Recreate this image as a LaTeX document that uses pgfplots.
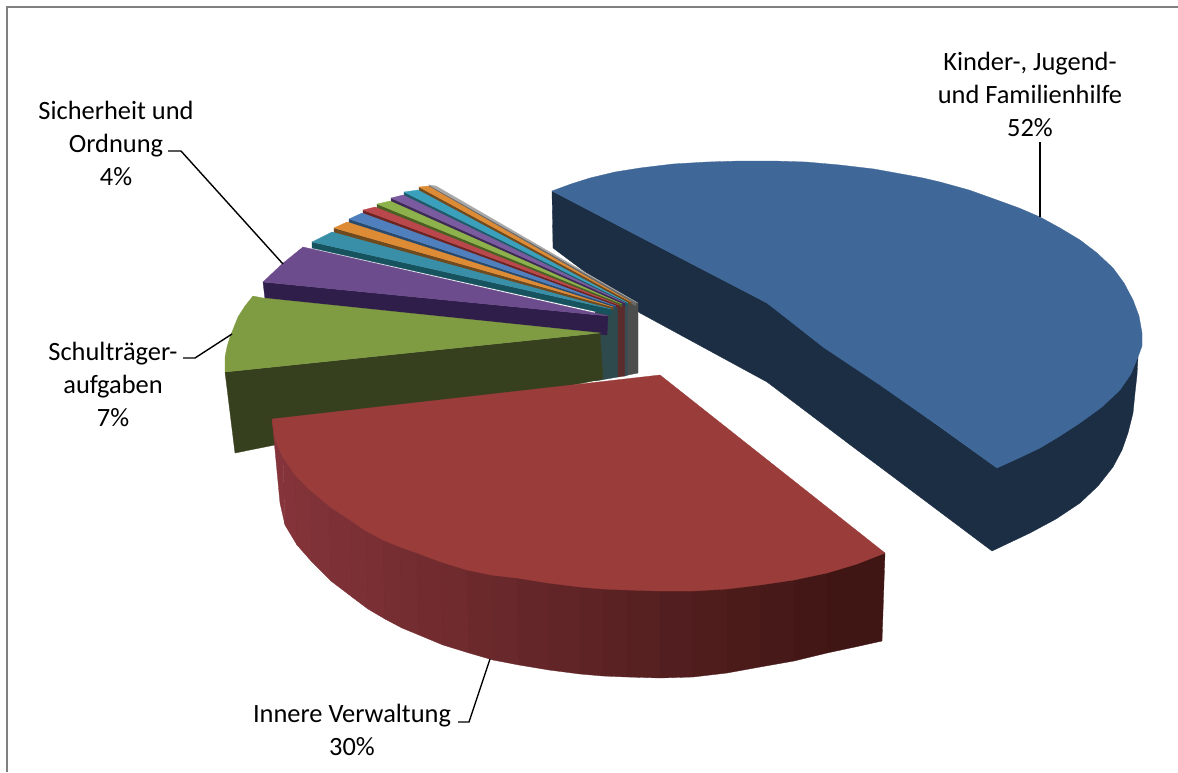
\documentclass[border=0pt]{standalone}
\usepackage{pgfplots}
\usepackage{fontspec}
\setmainfont{Carlito}
\pgfplotsset{compat=1.18}

\definecolor{blueS}{HTML}{1C2E44}
\definecolor{blueT}{HTML}{3F6797}
\definecolor{colA}{HTML}{2E4A4C}
\definecolor{colB}{HTML}{5B2C2C}
\definecolor{colC}{HTML}{3C4C55}
\definecolor{colD}{HTML}{4B4E4C}
\definecolor{grayS}{HTML}{6A6A6A}
\definecolor{grayT}{HTML}{A8A8A8}
\definecolor{oranS}{HTML}{6F4A1F}
\definecolor{oranT}{HTML}{DE8B36}
\definecolor{tealS}{HTML}{1F5A68}
\definecolor{tealT}{HTML}{3AA0BC}
\definecolor{purpS}{HTML}{3D2A55}
\definecolor{purpT}{HTML}{7A5BA0}
\definecolor{lgreS}{HTML}{4B5F25}
\definecolor{lgreT}{HTML}{8DB24B}
\definecolor{lredS}{HTML}{6B2422}
\definecolor{lredT}{HTML}{B9474B}
\definecolor{lbluS}{HTML}{2A4A6D}
\definecolor{lbluT}{HTML}{4F80BD}
\definecolor{tea1S}{HTML}{17525F}
\definecolor{tea1T}{HTML}{3A8FA8}
\definecolor{vioS}{HTML}{2F1D4A}
\definecolor{vioT}{HTML}{6D4C8E}
\definecolor{greS}{HTML}{363F1E}
\definecolor{greT}{HTML}{7F9C42}
\definecolor{redT}{HTML}{9A3D3A}
\definecolor{redL}{HTML}{84343A}
\definecolor{redR}{HTML}{401614}

% polygon in picture pixels: \poly{colour}{coordinates}
\newcommand{\poly}[2]{\addplot[fill=#1,draw=#1,line width=0.3pt] coordinates {#2} -- cycle;}
\newcommand{\strip}[2]{\poly{redR!#1!redL}{#2}}
\newcommand{\leader}[1]{\addplot[black,line width=1.4pt] coordinates {#1};}

\begin{document}
\begin{tikzpicture}
\begin{axis}[
    width=1178pt, height=772pt, scale only axis,
    xmin=0, xmax=1178, ymin=0, ymax=772, y dir=reverse,
    hide axis, clip=true,
    nodes={font=\fontsize{26.4}{33}\selectfont, align=center},
]
% keeps the whole canvas in the bounding box
\addplot[draw=none] coordinates {(0,0) (1178,772)};
% frame
\addplot[gray,line width=1.5pt] coordinates {(7,772) (7,7) (1178,7)};

% Kinder-, Jugend- und Familienhilfe
\poly{blueS}{(552,191) (553,248) (640,313) (767,382) (857,450) (880,467) (992,551) (1011,542) (1030,533) (1056,519) (1080,503) (1098,486) (1113,467) (1122,450) (1128,433) (1133,413) (1135,393) (1137,375) (1138,357) (997,468) (767,303)}
\poly{blueT}{(552,191) (571,184) (590,178) (615,172) (640,168) (673,164) (707,162) (740,161) (773,161) (806,162) (840,165) (874,169) (907,175) (923,178) (940,182) (969,190) (997,200) (1019,208) (1040,217) (1060,228) (1080,240) (1097,253) (1113,268) (1124,283) (1133,300) (1139,316) (1142,333) (1142,346) (1138,357) (1131,374) (1120,390) (1102,407) (1080,423) (1060,436) (1040,448) (1019,458) (997,468) (940,427) (880,385) (823,347) (767,303) (640,237)}

% back faces at the centre
\poly{colA}{(595,312) (618,305) (618,377) (595,381)}
\poly{colB}{(618,305) (625,303) (625,376) (618,377)}
\poly{colC}{(625,303) (628,303) (628,375) (625,376)}
\poly{colD}{(628,303) (638,303) (638,373) (628,375)}

% small slices, back to front
\poly{grayS}{(429,185) (429,188) (636,306) (636,302)}
\poly{grayT}{(429,185) (436,186) (638,303) (636,302)}
\poly{oranS}{(419,187) (419,191) (631,305) (631,302)}
\poly{oranT}{(419,187) (428,186) (631,302)}
\poly{tealS}{(404,192) (404,197) (628,306) (628,303)}
\poly{tealT}{(404,192) (418,190) (628,303)}
\poly{purpS}{(391,198) (391,203) (625,306) (625,303)}
\poly{purpT}{(391,198) (403,195) (625,303)}
\poly{lgreS}{(377,204) (377,209) (622,307) (622,304)}
\poly{lgreT}{(377,204) (390,201) (622,304)}
\poly{lredS}{(363,210) (363,215) (619,308) (619,305)}
\poly{lredT}{(363,210) (375,207) (619,305)}
\poly{lbluS}{(349,219) (349,224) (616,309) (616,306)}
\poly{lbluT}{(349,219) (362,213) (616,306)}
\poly{oranS}{(334,228) (334,233) (613,310) (613,307)}
\poly{oranT}{(334,228) (347,222) (613,307)}
\poly{tea1S}{(312,242) (312,248) (611,315) (611,309)}
\poly{tea1T}{(312,242) (332,232) (611,309)}

% Sicherheit und Ordnung
\poly{vioS}{(263,282) (265,299) (607,335) (608,316)}
\poly{vioT}{(263,282) (282,264) (303,247) (608,316)}

% Schultraegeraufgaben
\poly{greS}{(225,372) (235,453) (603,379) (600,333)}
\poly{greT}{(225,372) (225,357) (227,347) (230,337) (234,327) (238,317) (245,306) (253,296) (263,298) (600,333)}

% Innere Verwaltung, one dark face under the strips, so no white shows at the joins
\poly{redR!50!redL}{(285,457) (295,475) (310,490) (350,520) (417,553) (517,578) (627,590) (760,585) (882,555) (880,639) (827,651) (760,665) (660,676) (549,668) (469,651) (385,617) (331,579) (297,543)}
\strip{0}{(272,419) (275,440) (283,457) (285,525) (280,503) (275,450)}
\strip{2}{(283,457) (295,475) (297,545) (285,525)}
\strip{4}{(295,475) (310,490) (312,562) (297,545)}
\strip{7}{(310,490) (329,506) (331,581) (312,562)}
\strip{10}{(329,506) (350,520) (352,597) (331,581)}
\strip{13}{(350,520) (366,531) (368,609) (352,597)}
\strip{16}{(366,531) (383,540) (385,619) (368,609)}
\strip{20}{(383,540) (400,547) (402,628) (385,619)}
\strip{23}{(400,547) (417,553) (419,635) (402,628)}
\strip{27}{(417,553) (441,562) (443,645) (419,635)}
\strip{31}{(441,562) (467,570) (469,653) (443,645)}
\strip{36}{(467,570) (491,575) (493,660) (469,653)}
\strip{40}{(491,575) (517,578) (519,665) (493,660)}
\strip{45}{(517,578) (548,583) (549,670) (519,665)}
\strip{51}{(548,583) (580,587) (580,674) (549,670)}
\strip{56}{(580,587) (603,589) (603,676) (580,674)}
\strip{60}{(603,589) (627,590) (627,677) (603,676)}
\strip{66}{(627,590) (660,591) (660,678) (627,677)}
\strip{72}{(660,591) (693,591) (693,677) (660,678)}
\strip{78}{(693,591) (727,589) (727,673) (693,677)}
\strip{84}{(727,589) (760,585) (760,667) (727,673)}
\strip{90}{(760,585) (794,580) (794,661) (760,667)}
\strip{96}{(794,580) (827,573) (827,653) (794,661)}
\strip{100}{(827,573) (857,564) (855,647) (827,653)}
\strip{100}{(857,564) (885,553) (882,641) (855,647)}
\poly{redT}{(272,419) (660,375) (885,553) (857,564) (827,573) (794,580) (760,585) (727,589) (693,591) (660,591) (627,590) (603,589) (580,587) (548,583) (517,578) (491,575) (467,570) (441,562) (417,553) (400,547) (383,540) (366,531) (350,520) (329,506) (310,490) (295,475) (283,457) (275,440)}

% leader lines
\leader{(1040,142) (1040,217)}
\leader{(168,151) (181,151) (283,264)}
\leader{(183,358) (195,358) (232,334)}
\leader{(458,722) (469,722) (490,659)}

% labels
\node at (axis cs:1030,94) {Kinder-, Jugend-\\und Familienhilfe\\52\%};
\node at (axis cs:116,143) {Sicherheit und\\Ordnung\\4\%};
\node at (axis cs:113,384) {Schulträger-\\aufgaben\\7\%};
\node at (axis cs:352,730) {Innere Verwaltung\\30\%};
\end{axis}
\end{tikzpicture}
\end{document}
